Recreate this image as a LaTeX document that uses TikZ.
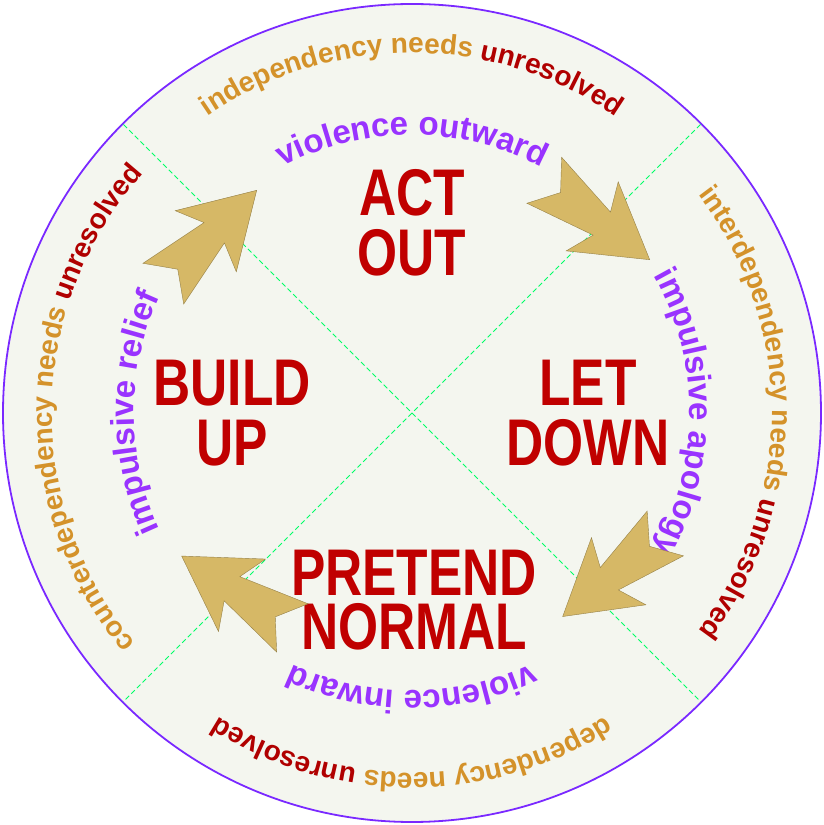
\documentclass[tikz,border=0pt]{standalone}
\usepackage{fontspec}
\setmainfont{Liberation Sans}
\usetikzlibrary{decorations.text}
\definecolor{ringor}{HTML}{D4922A}
\definecolor{ringred}{HTML}{B00000}
\definecolor{ringpur}{HTML}{9933FF}
\definecolor{big}{HTML}{C00000}
\definecolor{arr}{HTML}{D6B866}
\definecolor{bg}{HTML}{F4F6EF}
\newcommand{\rf}{\fontsize{28}{28}\selectfont\bfseries}
\newcommand{\pf}{\fontsize{33}{33}\selectfont\bfseries}
\tikzset{
  bigtxt/.style={font=\fontsize{66}{66}\selectfont\bfseries, text=big, align=center, inner sep=0},
  arrowshape/.style={fill=arr, draw=arr!70!black, line width=0.4pt},
}
\newcommand{\chev}[3]{\begin{scope}[shift={(#1,#2)},rotate=#3,scale=1.2]
\path[arrowshape] (55,0) -- (-5,36) -- (5,12) -- (-55,24) -- (-38,0) -- (-55,-24) -- (5,-12) -- (-5,-36) -- cycle;
\end{scope}}
\begin{document}
\begin{tikzpicture}[x=1pt,y=1pt]
\useasboundingbox (0,0) rectangle (824,825);
\coordinate (c) at (412,412);
\fill[bg] (c) circle (408);
\draw[ringpur!80!blue, line width=1.8pt] (c) circle (409);
\draw[green!60!cyan, dash pattern=on 5pt off 3pt, line width=1pt] (c) ++(135:408) coordinate (d1) -- ++(-45:816) coordinate (d2);
\draw[green!60!cyan, dash pattern=on 5pt off 3pt, line width=1pt] (c) ++(45:408) coordinate (d3) -- ++(-135:816) coordinate (d4);
% outer ring texts
\path[decorate, decoration={text along path, text align=center,
  text={|\rf\color{ringor}|independency needs |\rf\color{ringred}|unresolved}}]
  (c) ++(150:360) arc[start angle=150, end angle=30, radius=360];
\path[decorate, decoration={text along path, text align=center,
  text={|\rf\color{ringor}|interdependency needs |\rf\color{ringred}|unresolved}}]
  (c) ++(55:360) arc[start angle=55, end angle=-55, radius=360];
\path[decorate, decoration={text along path, text align=center,
  text={|\rf\color{ringor}|dependency needs |\rf\color{ringred}|unresolved}}]
  (c) ++(-30:360) arc[start angle=-30, end angle=-150, radius=360];
\path[decorate, decoration={text along path, text align=center,
  text={|\rf\color{ringor}|counterdependency needs |\rf\color{ringred}|unresolved}}]
  (c) ++(245:360) arc[start angle=245, end angle=113, radius=360];
% inner ring texts
\path[decorate, decoration={text along path, text align=center,
  text={|\pf\color{ringpur}|violence outward}}]
  (c) ++(135:278) arc[start angle=135, end angle=45, radius=278];
\path[decorate, decoration={text along path, text align=center,
  text={|\pf\color{ringpur}|impulsive apology}}]
  (c) ++(45:278) arc[start angle=45, end angle=-45, radius=278];
\path[decorate, decoration={text along path, text align=center,
  text={|\pf\color{ringpur}|violence inward}}]
  (c) ++(-45:278) arc[start angle=-45, end angle=-135, radius=278];
\path[decorate, decoration={text along path, text align=center,
  text={|\pf\color{ringpur}|impulsive relief}}]
  (c) ++(225:278) arc[start angle=225, end angle=135, radius=278];
% labels
\node[bigtxt] (act) at (412,602) {\scalebox{0.78}[1]{ACT}\\[-6pt]\scalebox{0.78}[1]{OUT}};
\node[bigtxt] (build) at (232,412) {\scalebox{0.78}[1]{BUILD}\\[-6pt]\scalebox{0.78}[1]{UP}};
\node[bigtxt] (let) at (588,412) {\scalebox{0.78}[1]{LET}\\[-6pt]\scalebox{0.78}[1]{DOWN}};
\node[bigtxt] (pre) at (414,225) {\scalebox{0.78}[1]{PRETEND}\\[-12pt]\scalebox{0.78}[1]{NORMAL}};
% arrows
\chev{210}{588}{45}
\chev{597}{605}{-37}
\chev{614}{250}{219}
\chev{237}{233}{147}
\end{tikzpicture}
\end{document}
